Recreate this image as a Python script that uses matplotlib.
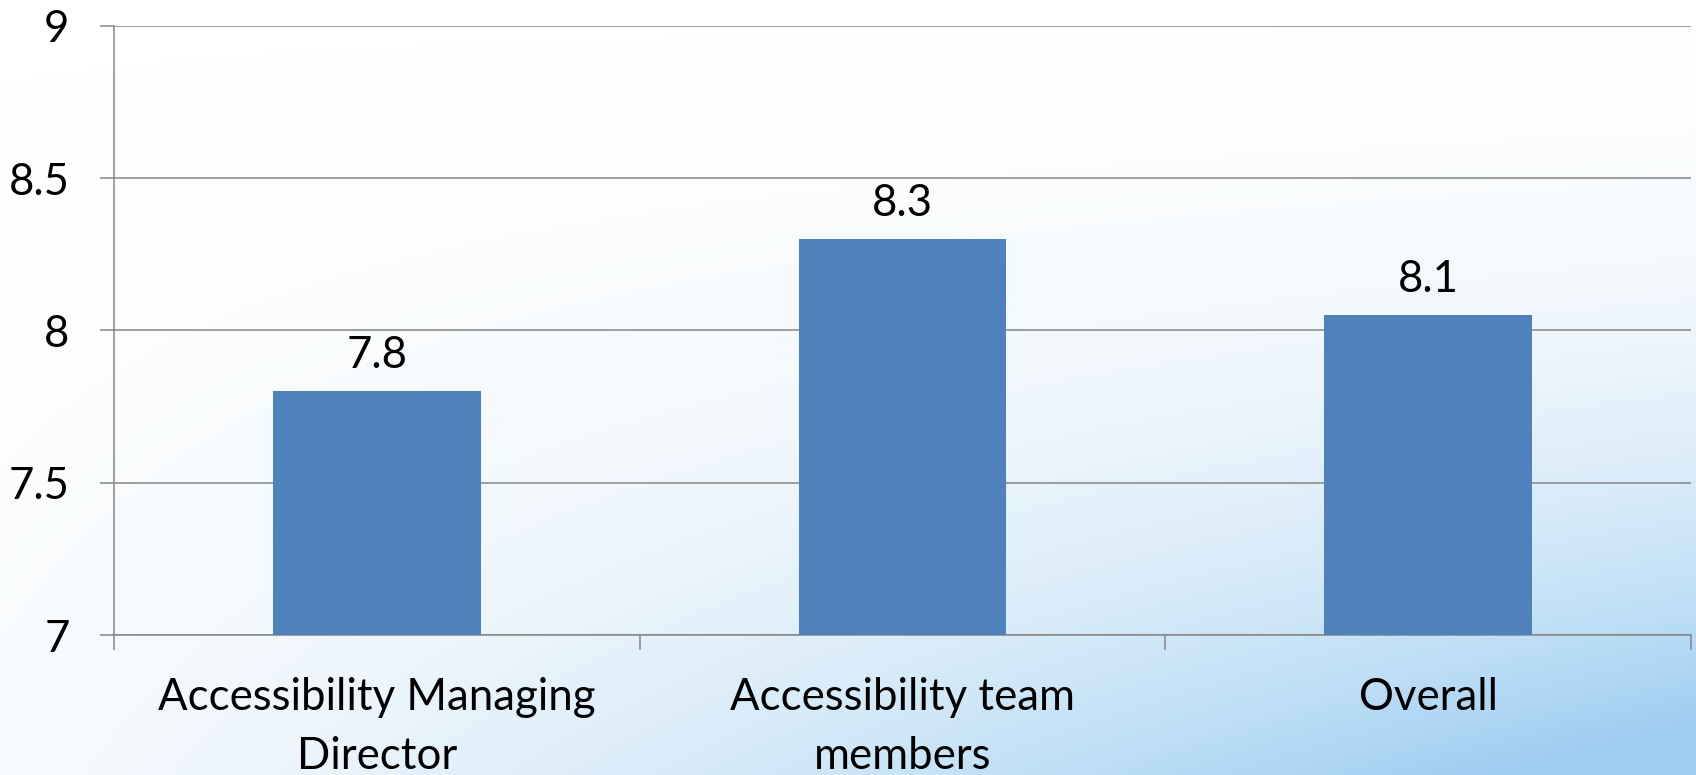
import numpy as np
import matplotlib
matplotlib.use("Agg")
import matplotlib.pyplot as plt
from matplotlib.colors import LinearSegmentedColormap

# scores per group
groups = ["Accessibility Managing\nDirector", "Accessibility team\nmembers", "Overall"]
scores = [7.8, 8.3, 8.05]
y_ticks = [7, 7.5, 8, 8.5, 9]
y_tick_labels = ["7", "7.5", "8", "8.5", "9"]

plt.rcParams["font.family"] = ["Lato", "DejaVu Sans"]
FS = 31.5

fig = plt.figure(figsize=(16.96, 7.75), dpi=100)

# soft white-to-sky-blue backdrop, bluest towards the lower right
bg = fig.add_axes([0, 0, 1, 1], zorder=-10)
yy, xx = np.mgrid[0:1:200j, 0:1:400j]
t = np.clip(yy ** 1.6 * (0.14 + 0.95 * xx), 0, 1)
cmap = LinearSegmentedColormap.from_list(
    "sky", ["#ffffff", "#f0f7fc", "#d9ecf9", "#bcdef6", "#9ecbf0"])
bg.imshow(t, cmap=cmap, aspect="auto", extent=[0, 1, 0, 1], origin="upper",
          vmin=0, vmax=1, interpolation="bicubic")
bg.set_axis_off()

ax = fig.add_axes([0.0672, 0.1806, 0.9298, 0.7859])
ax.patch.set_alpha(0)

x = np.arange(len(groups))
bars = ax.bar(x, scores, width=0.395, color="#4f81bd", zorder=3)

for xi, v in zip(x, scores):
    ax.annotate(f"{v:.1f}", (xi, v), xytext=(0, 17), textcoords="offset points",
                ha="center", va="baseline", fontsize=FS, color="black")

ax.set_xlim(-0.5, len(groups) - 0.5)
ax.set_ylim(7, 9)
ax.set_yticks(y_ticks)
ax.set_yticklabels(y_tick_labels)
ax.set_xticks(x)
ax.set_xticklabels(groups, linespacing=1.56)
ax.set_xticks(np.arange(len(groups) + 1) - 0.5, minor=True)

grey = "#868686"
ax.yaxis.grid(True, color=grey, linewidth=1.1, zorder=0)
for side in ("top", "right"):
    ax.spines[side].set_visible(False)
for side in ("left", "bottom"):
    ax.spines[side].set_color(grey)
    ax.spines[side].set_linewidth(1.1)

ax.tick_params(axis="y", length=10, width=1.1, color=grey, pad=22, labelsize=FS)
ax.tick_params(axis="x", which="major", length=0, pad=30, labelsize=FS)
ax.tick_params(axis="x", which="minor", length=11, width=1.1, color=grey)

fig.savefig("out.png", dpi=100)
